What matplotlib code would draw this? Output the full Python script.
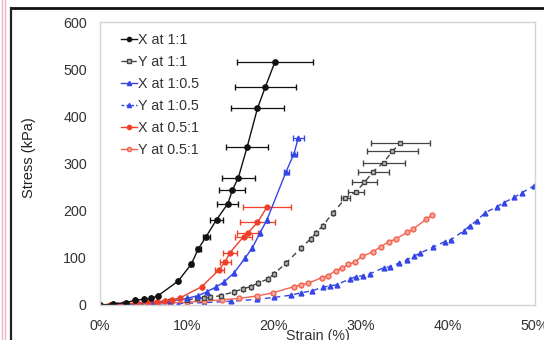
import matplotlib
matplotlib.use("Agg")
import matplotlib.pyplot as plt
from matplotlib.lines import Line2D
from matplotlib.ticker import FuncFormatter

plt.rcParams['font.family'] = ['Liberation Sans', 'DejaVu Sans']

# X at 1:1
x11_strain = [0, 1.5, 3.0, 4.0, 5.1, 5.9, 6.7, 9.0, 10.5, 11.3, 12.2, 13.4, 14.7, 15.2, 15.9, 16.9, 18.1, 19.0, 20.1]
x11_stress = [0, 2, 5, 10, 12, 14, 20, 51, 87, 119, 145, 181, 215, 243, 270, 334, 417, 462, 515]
x11_err = [0, 0, 0, 0, 0, 0, 0, 0, 0.2, 0.3, 0.4, 0.7, 1.2, 1.5, 1.9, 2.4, 3.1, 3.5, 4.4]

# Y at 1:1
y11_strain = [0, 3, 5, 8, 10, 11.2, 11.9, 12.7, 13.9, 15.4, 16.4, 17.3, 18.2, 19.3, 20.0, 21.4, 23.1, 24.2,
              24.8, 25.6, 26.8, 28.2, 29.4, 30.4, 31.4, 32.6, 33.6, 34.5]
y11_stress = [0, 2, 4, 8, 11, 14, 15, 16, 20, 28, 34, 39, 47, 55, 66, 89, 121, 140,
              152, 168, 196, 226, 240, 260, 283, 302, 326, 343]
y11_err = [0] * 21 + [0.5, 0.9, 1.4, 1.8, 2.4, 2.9, 3.4]

# X at 1:0.5
x105_strain = [0, 2, 4, 6, 8, 10, 11.3, 12.3, 13.3, 14.2, 15.4, 16.7, 17.5, 18.4, 19.2, 21.4, 22.3, 22.8]
x105_stress = [0, 1, 3, 5, 8, 14, 20, 28, 38, 48, 68, 100, 121, 153, 181, 283, 321, 355]
x105_err = [0] * 15 + [0.3, 0.4, 0.6]

# Y at 1:0.5
y105_strain = [0, 3, 6, 9, 12, 15, 18, 20, 22, 23.1, 24.4, 25.6, 26.4, 27.2, 28.7, 29.4, 30.2, 31.0,
               32.6, 33.3, 34.4, 35.3, 36.1, 36.8, 38.3, 39.6, 40.3, 41.8, 42.5, 43.3, 44.3, 45.6,
               46.4, 47.6, 48.5, 49.9]
y105_stress = [0, 1, 2, 3, 5, 8, 12, 16, 21, 26, 30, 38, 40, 43, 55, 60, 62, 66,
               79, 81, 89, 96, 104, 110, 123, 134, 138, 157, 168, 179, 196, 208,
               217, 228, 238, 253]

# X at 0.5:1
x051_strain = [0, 1.2, 2.7, 4.3, 5.5, 6.5, 7.5, 8.3, 9.2, 11.7, 13.7, 14.4, 14.9, 16.5, 17.0, 18.1, 19.2]
x051_stress = [0, 1, 3, 4, 5, 7, 9, 11, 15, 39, 75, 92, 110, 145, 153, 175, 208]
x051_err = [0] * 10 + [0.5, 0.6, 0.8, 1.0, 1.2, 2.0, 2.8]

# Y at 0.5:1
y051_strain = [0, 2, 4, 6, 8, 10, 12, 14, 16, 18, 19.9, 22.3, 23.1, 23.9, 25.5, 26.2, 27.1, 27.8,
               28.5, 29.3, 30.1, 31.4, 32.3, 33.2, 34.0, 35.3, 36.0, 37.5, 38.2]
y051_stress = [0, 1, 2, 3, 4, 6, 8, 11, 14, 19, 26, 39, 43, 46, 58, 62, 73, 78,
               86, 91, 103, 113, 124, 134, 140, 154, 161, 182, 191]

y_ticks = [0, 100, 200, 300, 400, 500, 600]
x_ticks = [0, 10, 20, 30, 40, 50]

BLACK = '#111111'
GRAY = '#444444'
BLUE = '#3545e6'
RED = '#f0402a'
SALMON = '#f2634f'

fig = plt.figure(figsize=(5.44, 3.40), dpi=100)
ax = fig.add_axes([100 / 544, 1 - 305 / 340, 435 / 544, 283 / 340])

dash = (0, (4, 3))
LW = 1.0

ax.errorbar(y105_strain, y105_stress, color=BLUE, ls=dash, lw=LW, marker='^', ms=3.5,
            mfc=BLUE, mec=BLUE, label='_y105')
ax.errorbar(y051_strain, y051_stress, color=SALMON, ls='-', lw=LW, marker='o', ms=3.5,
            mfc='#f7a89c', mec=SALMON, label='_y051')
ax.errorbar(y11_strain, y11_stress, xerr=y11_err, color=GRAY, ls=dash, lw=LW, marker='s',
            ms=3.5, mfc='#bbbbbb', mec=GRAY, ecolor=GRAY, elinewidth=0.9, capsize=2, label='_y11')
ax.errorbar(x105_strain, x105_stress, xerr=x105_err, color=BLUE, ls='-', lw=LW, marker='^',
            ms=3.5, mfc=BLUE, mec=BLUE, ecolor=BLUE, elinewidth=0.9, capsize=2, label='_x105')
ax.errorbar(x051_strain, x051_stress, xerr=x051_err, color=RED, ls='-', lw=LW, marker='o',
            ms=3.5, mfc=RED, mec=RED, ecolor=RED, elinewidth=0.9, capsize=2, label='_x051')
ax.errorbar(x11_strain, x11_stress, xerr=x11_err, color=BLACK, ls='-', lw=LW, marker='o',
            ms=3.8, mfc=BLACK, mec=BLACK, ecolor=BLACK, elinewidth=0.9, capsize=2, label='_x11')

ax.set_xlim(0, 50)
ax.set_ylim(0, 600)
ax.set_xticks(x_ticks)
ax.set_yticks(y_ticks)
ax.xaxis.set_major_formatter(FuncFormatter(lambda v, p: f"{v:.0f}%"))
ax.tick_params(length=0, labelsize=10.3, labelcolor='#333333')
ax.tick_params(axis='x', pad=10)
ax.tick_params(axis='y', pad=9.5)
for s in ax.spines.values():
    s.set_color('#d4d4d4')
    s.set_linewidth(1.0)

ax.set_xlabel('Strain (%)', fontsize=10.3, color='#333333', labelpad=-3)
ax.set_ylabel('Stress (kPa)', fontsize=10.5, color='#222222')
ax.yaxis.set_label_coords(-0.148, 0.52)

handles = [
    Line2D([], [], color=BLACK, lw=LW, marker='o', ms=3, mfc=BLACK, mec=BLACK),
    Line2D([], [], color=GRAY, lw=LW, ls=dash, marker='s', ms=3, mfc='#bbbbbb', mec=GRAY),
    Line2D([], [], color=BLUE, lw=LW, marker='^', ms=3, mfc=BLUE, mec=BLUE),
    Line2D([], [], color=BLUE, lw=LW, ls=(0, (2, 1.5)), marker='^', ms=3, mfc=BLUE, mec=BLUE),
    Line2D([], [], color=RED, lw=LW, marker='o', ms=3, mfc=RED, mec=RED),
    Line2D([], [], color=SALMON, lw=LW, marker='o', ms=3, mfc='#f7a89c', mec=SALMON),
]
labels = ['X at 1:1', 'Y at 1:1', 'X at 1:0.5', 'Y at 1:0.5', 'X at 0.5:1', 'Y at 0.5:1']
leg = ax.legend(handles, labels, loc='upper left', bbox_to_anchor=(0.035, 0.98), frameon=False,
                fontsize=10.3, handlelength=1.1, handletextpad=0.1, labelspacing=0.56,
                borderaxespad=0)
for t in leg.get_texts():
    t.set_color('#333333')

# outer frame of the panel
fig.add_artist(Line2D([11 / 544, 1.0], [1 - 8 / 340, 1 - 8 / 340], color='#111111', lw=2.0,
                      transform=fig.transFigure))
fig.add_artist(Line2D([11 / 544, 11 / 544], [0, 1 - 8 / 340], color='#222222', lw=1.6,
                      transform=fig.transFigure))
fig.add_artist(Line2D([1.5 / 544, 1.5 / 544], [0, 1], color='#e8b4c0', lw=1.0,
                      transform=fig.transFigure))
fig.add_artist(Line2D([5 / 544, 5 / 544], [0, 1], color='#e8b4c0', lw=1.0,
                      transform=fig.transFigure))

fig.savefig('out.png', dpi=100)
